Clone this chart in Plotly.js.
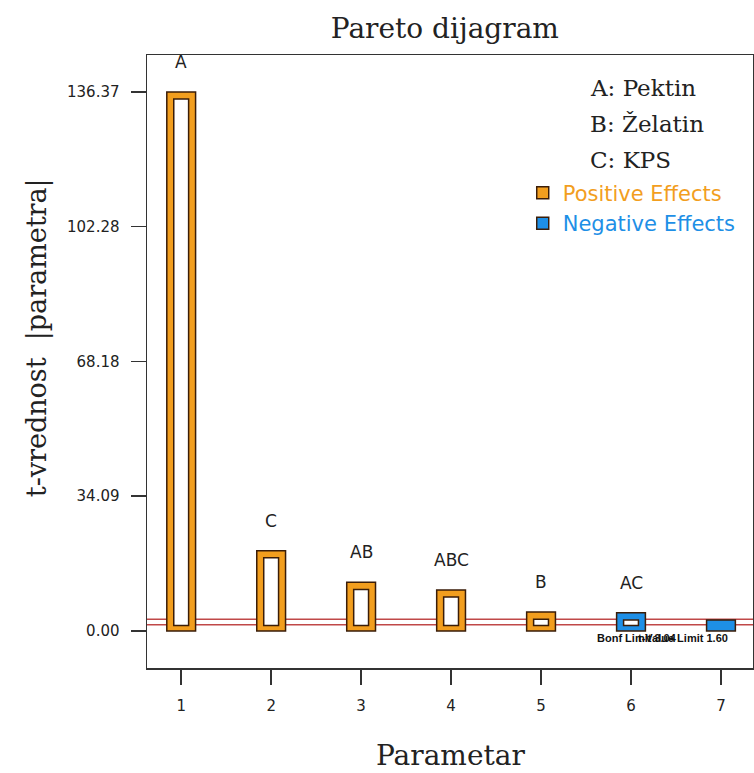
<!DOCTYPE html>
<html>
<head>
<meta charset="utf-8">
<script src="https://cdn.plot.ly/plotly-3.0.1.min.js"></script>
<style>html,body{margin:0;padding:0;background:#fff;}#chart{width:754px;height:773px;}</style>
</head>
<body>
<div id="chart"></div>
<script>
// ---- data ----
const params = [1, 2, 3, 4, 5, 6, 7];
const tValues = [136.37, 20.3, 12.3, 10.4, 4.8, 4.6, 2.8];
const effectSign = [1, 1, 1, 1, 1, -1, -1];
const termLabels = ['A', 'C', 'AB', 'ABC', 'B', 'AC', ''];
const yTickVals = [0, 34.09, 68.18, 102.28, 136.37];
const yTickText = ['0.00', '34.09', '68.18', '102.28', '136.37'];
const xTickVals = [1, 2, 3, 4, 5, 6, 7];
const limitValues = [3.0, 1.6];
const limitLabels = ['Bonf Limit 3.04', 't-Value Limit 1.60'];
const factorNames = ['A: Pektin', 'B: Želatin', 'C: KPS'];

// ---- style ----
const ORANGE = '#F29E1E', BLUE = '#1E8FE6', DARK = '#3a1d08';
const SERIF = 'DejaVu Serif, serif';
const SANS = 'DejaVu Sans, Verdana, sans-serif';
const barW = 0.32, innerW = 0.165, insetBottom = 1.4, insetTop = 1.8;

function pick(arr, sign) { return arr.filter((_, i) => effectSign[i] === sign); }

const traces = [];
[[1, ORANGE, 'Positive Effects'], [-1, BLUE, 'Negative Effects']].forEach(([s, col, nm]) => {
  traces.push({
    type: 'bar', x: pick(params, s), y: pick(tValues, s), width: barW,
    marker: {color: col, line: {color: DARK, width: 1.5}},
    name: '<span style="color:' + col + '">' + nm + '</span>',
    showlegend: true, hoverinfo: 'skip'
  });
});
// inner white (hollow) part of each bar
const innerX = [], innerH = [];
params.forEach((p, i) => {
  const h = tValues[i] - insetTop - insetBottom;
  if (h > 0.5) { innerX.push(p); innerH.push(h); }
});
traces.push({
  type: 'bar', x: innerX, y: innerH, base: insetBottom, width: innerW,
  marker: {color: '#ffffff', line: {color: DARK, width: 1.5}},
  showlegend: false, hoverinfo: 'skip'
});

const annotations = [];
params.forEach((p, i) => {
  if (!termLabels[i]) return;
  annotations.push({x: p, y: tValues[i], xref: 'x', yref: 'y', text: termLabels[i],
    showarrow: false, yshift: 30, yanchor: 'middle',
    font: {family: SANS, size: 17, color: '#222'}});
});
factorNames.forEach((t, i) => {
  annotations.push({x: 0.727, y: 0.946 - i * 0.0587, xref: 'paper', yref: 'paper', text: t,
    showarrow: false, xanchor: 'left', yanchor: 'middle',
    font: {family: SERIF, size: 23, color: '#222'}});
});
limitLabels.forEach((t, i) => {
  annotations.push({x: 5.6 + i * 0.45, y: 0, xref: 'x', yref: 'y', text: '<b>' + t + '</b>',
    showarrow: false, xanchor: 'left', yanchor: 'top', yshift: 1,
    font: {family: 'Liberation Sans, Arial', size: 11, color: '#111'}});
});
// axis titles
annotations.push({x: 0.5, y: 0, xref: 'paper', yref: 'paper', text: 'Parametar', showarrow: false,
  yanchor: 'middle', yshift: -87, font: {family: SERIF, size: 28, color: '#222'}});
annotations.push({x: 0, y: 0.538, xref: 'paper', yref: 'paper', text: 't-vrednost  |parametra|', showarrow: false,
  textangle: -90, xanchor: 'center', yanchor: 'middle', xshift: -110,
  font: {family: SERIF, size: 27, color: '#222'}});

const shapes = limitValues.map(v => ({
  type: 'line', xref: 'paper', x0: 0, x1: 1, yref: 'y', y0: v, y1: v, layer: 'below',
  line: {color: '#c04848', width: 1.5}
}));

const layout = {
  width: 754, height: 773,
  margin: {l: 147, r: 1, t: 55, b: 105},
  paper_bgcolor: '#fff', plot_bgcolor: '#fff',
  barmode: 'overlay',
  title: {text: 'Pareto dijagram', x: 0.59, xref: 'container', xanchor: 'center',
    y: 1 - 28 / 773, yref: 'container', yanchor: 'middle',
    font: {family: SERIF, size: 28, color: '#222'}},
  xaxis: {range: [0.62, 7.356], tickvals: xTickVals, ticks: 'outside', ticklen: 15, tickwidth: 1.5,
    tickcolor: '#333', showgrid: false, zeroline: false, showline: true, linecolor: '#333', linewidth: 1.5,
    mirror: true, ticklabelstandoff: 8, tickfont: {family: SANS, size: 15, color: '#222'}},
  yaxis: {range: [-9.36, 145.7], tickvals: yTickVals, ticktext: yTickText, ticks: 'outside', ticklen: 15,
    tickwidth: 1.5, tickcolor: '#333', showgrid: false, zeroline: false, showline: true, linecolor: '#333',
    linewidth: 1.5, mirror: true, ticklabelstandoff: 8,
    tickfont: {family: SANS, size: 15, color: '#222'}},
  legend: {x: 0.62, y: 0.808, xanchor: 'left', yanchor: 'top', bgcolor: 'rgba(0,0,0,0)',
    font: {family: SANS, size: 21}, tracegroupgap: 0, itemwidth: 30},
  showlegend: true,
  annotations: annotations,
  shapes: shapes
};

Plotly.newPlot('chart', traces, layout, {displayModeBar: false, staticPlot: true});
</script>
</body>
</html>
